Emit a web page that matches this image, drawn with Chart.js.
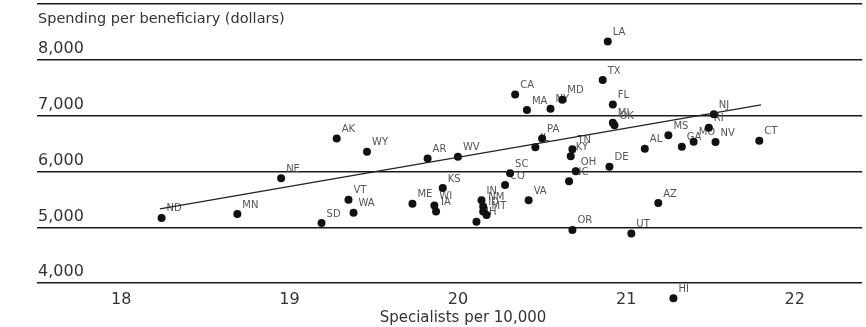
<!DOCTYPE html>
<html lang="en">
<head>
    <meta charset="UTF-8">
    <title>Specialists vs spending</title>
    <script src="https://cdn.jsdelivr.net/npm/chart.js"></script>
    <style>
        html, body {
            margin: 0;
            padding: 0;
            background: #fff;
        }
        #wrap {
            width: 866px;
            height: 327px;
        }
    </style>
</head>
<body>
    <div id="wrap"><canvas id="grafica"></canvas></div>

    <script>
        // state codes, specialists per 10,000 and spending per beneficiary
        const stateCodes = ['LA', 'TX', 'CA', 'MA', 'NY', 'MD', 'FL', 'MI', 'OK', 'NJ',
            'RI', 'MS', 'AL', 'GA', 'MO', 'NV', 'CT', 'DE', 'PA', 'IL',
            'TN', 'KY', 'OH', 'NC', 'SC', 'CO', 'NE', 'AK', 'WY', 'AR',
            'WV', 'KS', 'VT', 'WA', 'SD', 'ME', 'WI', 'IA', 'IN', 'NM',
            'ID', 'MT', 'NH', 'VA', 'ND', 'MN', 'AZ', 'OR', 'UT', 'HI'];
        const specialists = [20.89, 20.86, 20.34, 20.41, 20.55, 20.62, 20.92, 20.92, 20.93, 21.52,
            21.49, 21.25, 21.11, 21.33, 21.40, 21.53, 21.79, 20.90, 20.50, 20.46,
            20.68, 20.67, 20.70, 20.66, 20.31, 20.28, 18.95, 19.28, 19.46, 19.82,
            20.00, 19.91, 19.35, 19.38, 19.19, 19.73, 19.86, 19.87, 20.14, 20.15,
            20.15, 20.17, 20.11, 20.42, 18.24, 18.69, 21.19, 20.68, 21.03, 21.28];
        const spending = [8330, 7640, 7380, 7100, 7125, 7285, 7200, 6875, 6830, 7025,
            6785, 6650, 6410, 6445, 6535, 6530, 6550, 6085, 6590, 6435,
            6400, 6275, 6005, 5825, 5970, 5760, 5880, 6590, 6355, 6235,
            6265, 5705, 5495, 5260, 5080, 5425, 5390, 5285, 5485, 5375,
            5285, 5220, 5100, 5485, 5170, 5240, 5435, 4955, 4890, 3730];

        // trend line end points
        const trendX = [18.23, 21.80];
        const trendY = [5330, 7195];

        const xTicks = [18, 19, 20, 21, 22];
        const yTicks = [4000, 5000, 6000, 7000, 8000, 9000];

        const textColor = '#333';
        const tickFont = '16px "DejaVu Sans"';

        // state abbreviations next to the dots (drawn under the dots)
        const stateLabels = {
            id: 'stateLabels',
            beforeDatasetsDraw(chart) {
                const ctx = chart.ctx;
                const meta = chart.getDatasetMeta(1);
                ctx.save();
                ctx.font = '10px "DejaVu Sans"';
                ctx.fillStyle = '#555';
                ctx.textAlign = 'left';
                ctx.textBaseline = 'middle';
                meta.data.forEach((pt, i) => {
                    ctx.fillText(stateCodes[i], pt.x + 5, pt.y - 9);
                });
                ctx.restore();
            }
        };

        // tick labels sit inside the plot (y above its grid line, x under the 4,000 line)
        const axisText = {
            id: 'axisText',
            afterDraw(chart) {
                const ctx = chart.ctx;
                const y = chart.scales.y;
                const x = chart.scales.x;
                const left = chart.chartArea.left;
                ctx.save();
                ctx.fillStyle = textColor;
                ctx.textAlign = 'left';
                ctx.textBaseline = 'middle';
                ctx.font = tickFont;
                yTicks.forEach(v => {
                    if (v === 9000) return;
                    ctx.fillText(v.toLocaleString('en-US'), left + 1, y.getPixelForValue(v) - 11);
                });
                ctx.font = '14.5px "DejaVu Sans"';
                ctx.fillText('Spending per beneficiary (dollars)', left + 1, y.getPixelForValue(9000) + 15);
                ctx.textAlign = 'center';
                ctx.font = tickFont;
                xTicks.forEach(v => {
                    ctx.fillText(String(v), x.getPixelForValue(v), y.getPixelForValue(4000) + 17);
                });
                ctx.font = '15px "DejaVu Sans"';
                ctx.fillText('Specialists per 10,000', x.getPixelForValue(20.03), 318);
                ctx.restore();
            }
        };

        const ctx = document.getElementById('grafica').getContext('2d');
        new Chart(ctx, {
            data: {
                datasets: [{
                    type: 'line',
                    data: trendX.map((v, i) => ({ x: v, y: trendY[i] })),
                    borderColor: '#222',
                    borderWidth: 1.3,
                    pointRadius: 0,
                    fill: false
                }, {
                    type: 'scatter',
                    data: specialists.map((v, i) => ({ x: v, y: spending[i] })),
                    backgroundColor: '#111',
                    borderWidth: 0,
                    pointRadius: 4
                }]
            },
            options: {
                responsive: true,
                maintainAspectRatio: false,
                animation: false,
                layout: { padding: { left: 37, right: 0, top: 3, bottom: 22 } },
                plugins: {
                    legend: { display: false },
                    tooltip: { enabled: false }
                },
                scales: {
                    x: {
                        type: 'linear',
                        display: false,
                        min: 17.5,
                        max: 22.4
                    },
                    y: {
                        type: 'linear',
                        min: 3610,
                        max: 9000,
                        afterBuildTicks: s => { s.ticks = yTicks.map(v => ({ value: v })); },
                        grid: { color: '#1a1a1a', lineWidth: 1.5, drawTicks: false },
                        border: { display: false },
                        ticks: { display: false }
                    }
                }
            },
            plugins: [stateLabels, axisText]
        });
    </script>
</body>
</html>
